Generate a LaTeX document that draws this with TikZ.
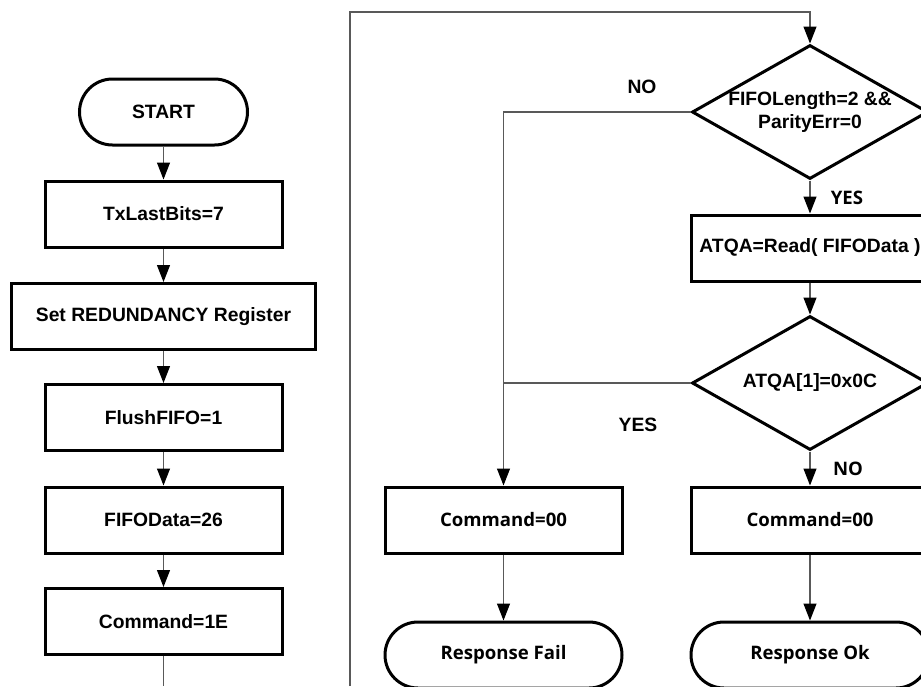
\documentclass[tikz,border=0pt]{standalone}
\usepackage{fontspec}
\setmainfont{Liberation Sans}
\newfontfamily\altsans{Open Sans}
\usetikzlibrary{arrows.meta,shapes.geometric}

\begin{document}
\begin{tikzpicture}[x=1pt,y=-1pt,
  font=\fontsize{19.3}{23}\selectfont\bfseries,
  box/.style={draw,line width=3pt,minimum width=237pt,minimum height=66pt,inner sep=0pt},
  term/.style={draw,line width=3pt,rounded corners=33pt,minimum width=237pt,minimum height=66pt,inner sep=0pt},
  decision/.style={draw,diamond,line width=3pt,minimum width=236pt,minimum height=134pt,inner sep=0pt,aspect=1.76,align=center},
  flow/.style={draw=black!65,line width=1.2pt,-{Triangle[length=17pt,width=13pt,color=black]}},
  link/.style={draw=black!65,line width=1.2pt},
  lbl/.style={inner sep=0pt},
  alt/.style={font=\fontsize{18.6}{22}\selectfont\altsans\bfseries}]
\useasboundingbox (0,0) rectangle (921,686);
\clip (0,0) rectangle (921,686);

% left column: setup sequence
\node[term,minimum width=168pt] (start) at (163.5,112) {START};
\node[box] (tx) at (163.5,214) {TxLastBits=7};
\node[box,minimum width=304pt] (reg) at (163.5,316.5) {Set REDUNDANCY Register};
\node[box] (flush) at (163.5,417.5) {FlushFIFO=1};
\node[box] (fdata) at (163.5,520) {FIFOData=26};
\node[box] (cmd) at (163.5,621.5) {Command=1E};
\coordinate (cmdout) at (163.5,686);

\draw[flow] (start) -- (tx);
\draw[flow] (tx) -- (reg);
\draw[flow] (reg) -- (flush);
\draw[flow] (flush) -- (fdata);
\draw[flow] (fdata) -- (cmd);
\draw[link] (cmd) -- (cmdout);

% right part: answer check
\coordinate (loopin) at (350,686);
\coordinate (looptop) at (350,12);
\node[decision] (d1) at (810,112) {FIFOLength=2 \&\&\\ParityErr=0};
\node[box,minimum width=238pt] (read) at (810,248) {ATQA=Read( FIFOData )};
\node[decision] (d2) at (810,383) {ATQA[1]=0x0C};
\node[box,alt,minimum width=237pt] (cmdf) at (503.5,520) {Command=00};
\node[box,alt,minimum width=238pt] (cmdok) at (810,520) {Command=00};
\node[term,alt,minimum width=237pt] (fail) at (503.5,655) {Response Fail};
\node[term,alt,minimum width=238pt] (ok) at (810,655) {Response Ok};
\coordinate (nojoin) at (503.5,112);
\coordinate (yesjoin) at (503.5,383);

\draw[flow] (loopin) -- (looptop) -| (d1.north);
\draw[flow] (d1) -- (read);
\draw[flow] (read) -- (d2);
\draw[flow] (d2) -- (cmdok);
\draw[flow] (d1.west) -- (nojoin) -- (cmdf.north);
\draw[link] (d2.west) -- (yesjoin);
\draw[flow] (cmdf) -- (fail);
\draw[flow] (cmdok) -- (ok);

\node[lbl] (no1) at (642,87) {NO};
\node[lbl,alt] (yes1) at (847,198) {YES};
\node[lbl] (yes2) at (638,425) {YES};
\node[lbl,alt] (no2) at (848,469) {NO};
\end{tikzpicture}
\end{document}
